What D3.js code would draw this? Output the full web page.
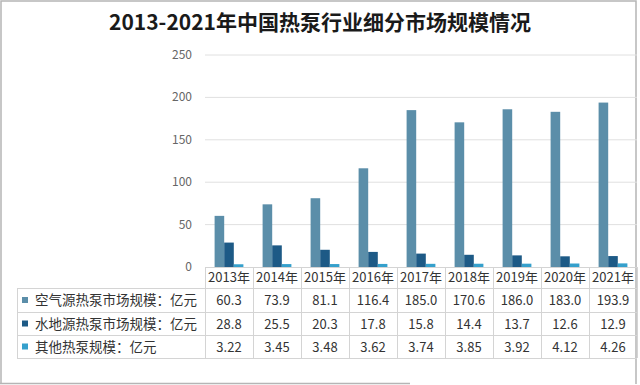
<!DOCTYPE html>
<html>
<head>
<meta charset="utf-8">
<script src="https://cdn.jsdelivr.net/npm/d3@7"></script>
<style>
  body { margin: 0; background: #fff; }
  text { font-family: "Noto Sans CJK SC", "Noto Sans", sans-serif; }
</style>
</head>
<body>
<div class="container"></div>
<script>
const width = 640;
const height = 385;

const years = ["2013年", "2014年", "2015年", "2016年", "2017年", "2018年", "2019年", "2020年", "2021年"];
const seriesNames = ["空气源热泵市场规模：亿元", "水地源热泵市场规模：亿元", "其他热泵规模：亿元"];
const airSource = [60.3, 73.9, 81.1, 116.4, 185.0, 170.6, 186.0, 183.0, 193.9];
const groundSource = [28.8, 25.5, 20.3, 17.8, 15.8, 14.4, 13.7, 12.6, 12.9];
const otherPump = [3.22, 3.45, 3.48, 3.62, 3.74, 3.85, 3.92, 4.12, 4.26];
const airLabels = ["60.3", "73.9", "81.1", "116.4", "185.0", "170.6", "186.0", "183.0", "193.9"];
const groundLabels = ["28.8", "25.5", "20.3", "17.8", "15.8", "14.4", "13.7", "12.6", "12.9"];
const otherLabels = ["3.22", "3.45", "3.48", "3.62", "3.74", "3.85", "3.92", "4.12", "4.26"];
const yTicks = [0, 50, 100, 150, 200, 250];

const colors = ["#5b8ea9", "#1d5a86", "#35a0cc"];
const allSeries = [airSource, groundSource, otherPump];
const allLabels = [airLabels, groundLabels, otherLabels];

const svg = d3.select(".container")
    .append("svg")
    .attr("width", width)
    .attr("height", height);

// image frame
svg.append("path")
    .attr("d", "M1,384 L1,1 L636,1 L636,384")
    .attr("fill", "none")
    .attr("stroke", "#b5b5b5")
    .attr("stroke-width", 1.5);
svg.append("line")
    .attr("x1", 0).attr("x2", 410)
    .attr("y1", 383.5).attr("y2", 383.5)
    .attr("stroke", "#b5b5b5")
    .attr("stroke-width", 1.5);

svg.append("text")
    .attr("x", 320)
    .attr("y", 30)
    .attr("text-anchor", "middle")
    .attr("font-size", 21)
    .attr("font-weight", "bold")
    .attr("fill", "#1a1a1a")
    .text("2013-2021年中国热泵行业细分市场规模情况");

const plotLeft = 205, plotRight = 637, plotTop = 55, plotBottom = 267;

const x = d3.scaleBand()
    .domain(years)
    .range([plotLeft, plotRight]);

const y = d3.scaleLinear()
    .domain([0, 250])
    .range([plotBottom, plotTop]);

const inner = d3.scaleBand()
    .domain([0, 1, 2])
    .range([0, x.bandwidth() * 0.6]);

// gridlines
svg.append("g")
    .selectAll("line")
    .data(yTicks.filter(d => d > 0))
    .enter()
    .append("line")
    .attr("x1", plotLeft)
    .attr("x2", plotRight)
    .attr("y1", d => y(d))
    .attr("y2", d => y(d))
    .attr("stroke", "#e0e0e0")
    .attr("stroke-width", 1);

// y labels
svg.append("g")
    .selectAll("text")
    .data(yTicks)
    .enter()
    .append("text")
    .attr("x", 192)
    .attr("y", d => y(d) + 4)
    .attr("text-anchor", "end")
    .attr("font-size", 12)
    .attr("fill", "#666")
    .text(d => d);

// bars
allSeries.forEach((values, s) => {
    svg.append("g")
        .selectAll("rect")
        .data(values)
        .enter()
        .append("rect")
        .attr("x", (d, i) => x(years[i]) + x.bandwidth() * 0.2 + inner(s))
        .attr("y", d => y(d))
        .attr("width", inner.bandwidth())
        .attr("height", d => y(0) - y(d))
        .attr("fill", colors[s]);
});

// data table
const tableLeft = 17;
const headerTop = plotBottom;
const rowTops = [288, 312, 335, 358];
const lineColor = "#d4d4d4";

const table = svg.append("g");

// horizontal lines
table.append("line")
    .attr("x1", plotLeft).attr("x2", plotRight)
    .attr("y1", headerTop + 0.5).attr("y2", headerTop + 0.5)
    .attr("stroke", lineColor);
rowTops.forEach(yy => {
    table.append("line")
        .attr("x1", tableLeft).attr("x2", plotRight)
        .attr("y1", yy + 0.5).attr("y2", yy + 0.5)
        .attr("stroke", lineColor);
});

// vertical lines
table.selectAll(".vline")
    .data(years.concat(["end"]))
    .enter()
    .append("line")
    .attr("x1", (d, i) => plotLeft + i * x.bandwidth() + 0.5)
    .attr("x2", (d, i) => plotLeft + i * x.bandwidth() + 0.5)
    .attr("y1", headerTop)
    .attr("y2", rowTops[3])
    .attr("stroke", lineColor);
table.append("line")
    .attr("x1", tableLeft + 0.5).attr("x2", tableLeft + 0.5)
    .attr("y1", rowTops[0]).attr("y2", rowTops[3])
    .attr("stroke", lineColor);

// year header
table.selectAll(".year")
    .data(years)
    .enter()
    .append("text")
    .attr("x", d => x(d) + x.bandwidth() / 2)
    .attr("y", headerTop + 15)
    .attr("text-anchor", "middle")
    .attr("font-size", 13)
    .attr("fill", "#333")
    .text(d => d);

// rows
allLabels.forEach((labels, s) => {
    const mid = (rowTops[s] + rowTops[s + 1]) / 2;
    table.append("rect")
        .attr("x", 22)
        .attr("y", mid - 3)
        .attr("width", 6)
        .attr("height", 6)
        .attr("fill", colors[s]);
    table.append("text")
        .attr("x", 35)
        .attr("y", mid + 5)
        .attr("font-size", 13.5)
        .attr("fill", "#333")
        .text(seriesNames[s]);
    table.selectAll(".val" + s)
        .data(labels)
        .enter()
        .append("text")
        .attr("x", (d, i) => x(years[i]) + x.bandwidth() / 2)
        .attr("y", mid + 5)
        .attr("text-anchor", "middle")
        .attr("font-size", 13)
        .attr("fill", "#333")
        .text(d => d);
});
</script>
</body>
</html>
